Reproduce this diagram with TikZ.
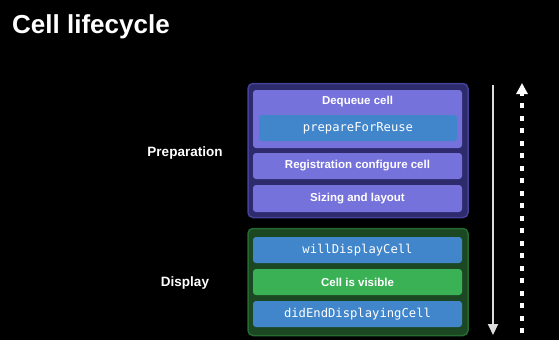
\documentclass[tikz,border=0pt]{standalone}
\usepackage{fontspec}
\setmainfont{Liberation Sans}
\setmonofont{DejaVu Sans Mono}
\usetikzlibrary{arrows.meta}
\definecolor{bg}{HTML}{000000}
\definecolor{prepfill}{HTML}{2E2B6C}
\definecolor{prepline}{HTML}{45419A}
\definecolor{purplebox}{HTML}{7672DC}
\definecolor{bluebox}{HTML}{4185CA}
\definecolor{dispfill}{HTML}{1B4822}
\definecolor{displine}{HTML}{266A2F}
\definecolor{greenbox}{HTML}{3BB155}
\definecolor{arrowgray}{HTML}{DCDCDC}
\tikzset{
  outerbox/.style={rounded corners=5pt, line width=1.5pt, minimum width=220pt, inner sep=0pt},
  innerbox/.style={rounded corners=3pt, minimum width=209pt, inner sep=0pt, text=white, font=\bfseries\fontsize{11.5}{13}\selectfont},
  codebox/.style={innerbox, fill=bluebox, font=\ttfamily\fontsize{12.2}{14}\selectfont},
  grouplabel/.style={text=white, font=\bfseries\fontsize{13.5}{16}\selectfont, inner sep=0pt},
}
\begin{document}
\begin{tikzpicture}[x=1pt,y=-1pt]
\fill[bg] (0,0) rectangle (559,340);
\useasboundingbox (0,0) rectangle (559,340);
\node[anchor=base west, text=white, font=\bfseries\fontsize{26}{30}\selectfont, inner sep=0pt] (title) at (12,33) {Cell lifecycle};
% Preparation group
\node[outerbox, fill=prepfill, draw=prepline, minimum height=134pt] (prep) at (358,150.5) {};
\node[innerbox, fill=purplebox, minimum height=58pt] (deq) at (357.5,119) {};
\node[text=white, font=\bfseries\fontsize{11.5}{13}\selectfont, inner sep=0pt] (deqlabel) at (357.5,102) {Dequeue cell};
\node[codebox, minimum width=198pt, minimum height=26pt] (reuse) at (358,128) {prepareForReuse};
\node[innerbox, fill=purplebox, minimum height=26pt] (reg) at (357.5,166) {Registration configure cell};
\node[innerbox, fill=purplebox, minimum height=27pt] (size) at (357.5,198.5) {Sizing and layout};
% Display group
\node[outerbox, fill=dispfill, draw=displine, minimum height=107pt] (disp) at (358,282) {};
\node[codebox, minimum height=26pt] (will) at (357.5,250) {willDisplayCell};
\node[innerbox, fill=greenbox, minimum height=26pt] (vis) at (357.5,282) {Cell is visible};
\node[codebox, minimum height=26pt] (did) at (357.5,314) {didEndDisplayingCell};
% labels
\node[grouplabel] (preplabel) at (185,153) {Preparation};
\node[grouplabel] (displabel) at (185,283) {Display};
% arrows
\coordinate (s1) at (493,85);
\coordinate (s2) at (493,335);
\coordinate (d1) at (522,333);
\coordinate (d2) at (522,83);
\draw[arrowgray, line width=2pt, -{Triangle[width=10pt,length=11pt]}] (s1) -- (s2);
\draw[white, line width=3.5pt, dash pattern=on 5pt off 7.5pt, -{Triangle[width=11pt,length=11pt]}] (d1) -- (d2);
\end{tikzpicture}
\end{document}
